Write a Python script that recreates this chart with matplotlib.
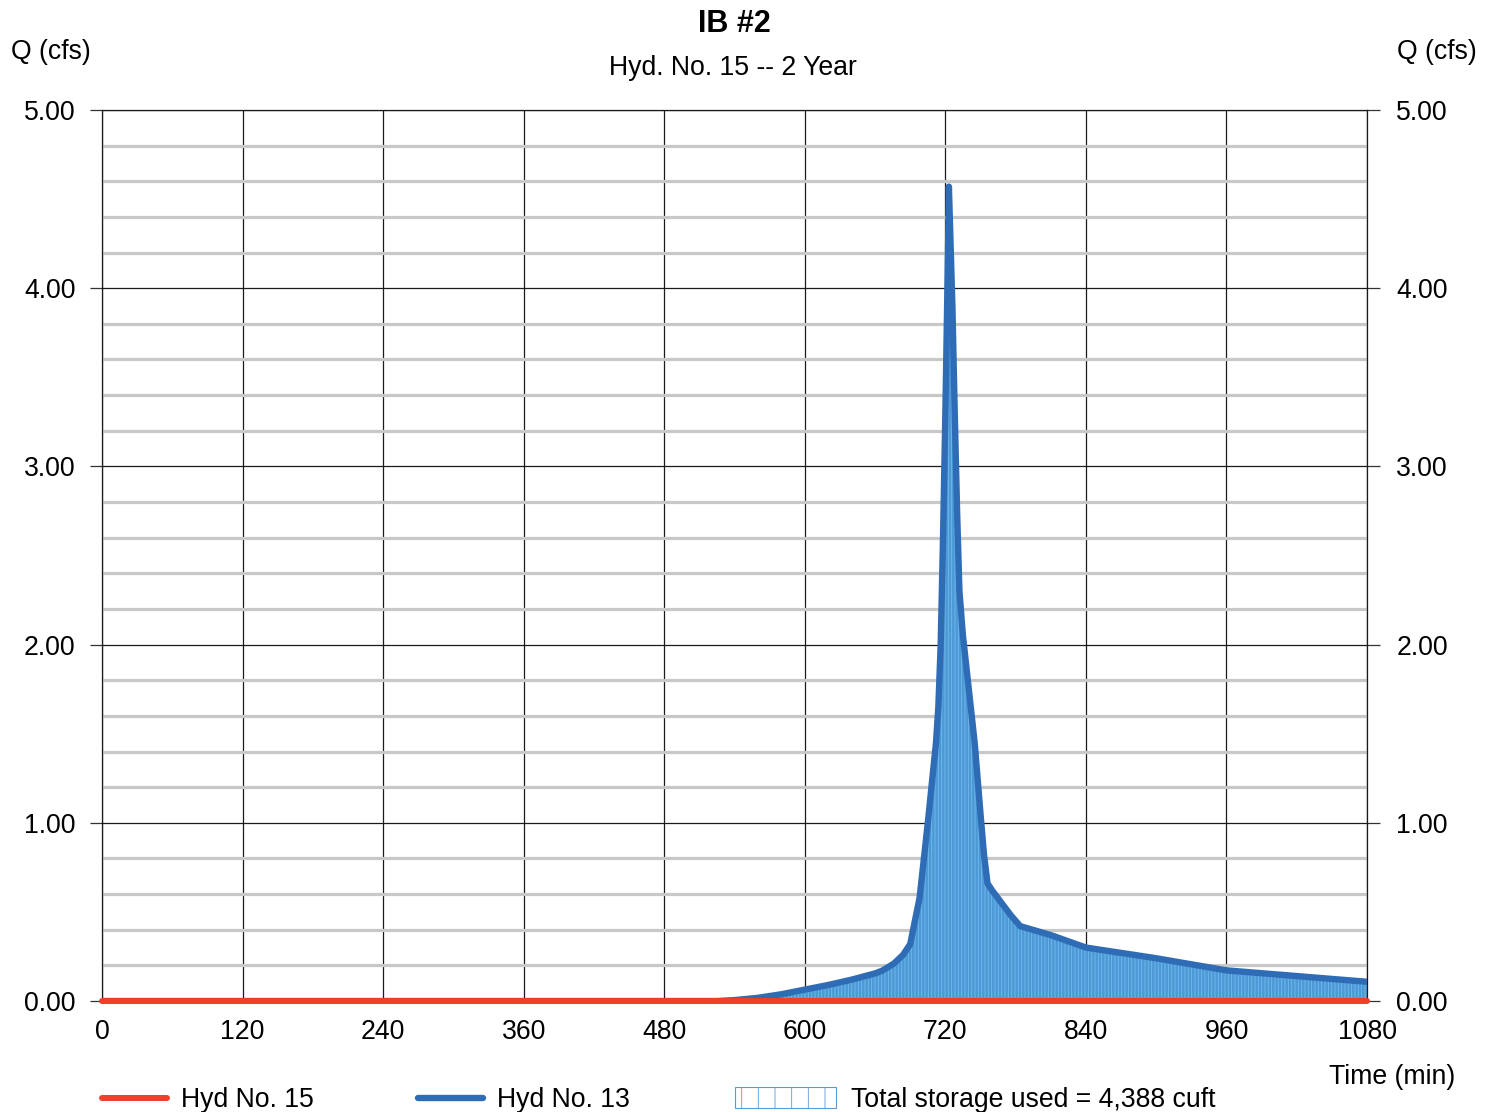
import matplotlib
matplotlib.use("Agg")
import matplotlib.pyplot as plt
import matplotlib.transforms as mtransforms
from matplotlib.lines import Line2D
from matplotlib.patches import Rectangle
from matplotlib.ticker import MultipleLocator, FormatStrFormatter

plt.rcParams['font.family'] = ['Liberation Sans', 'DejaVu Sans']
plt.rcParams['hatch.linewidth'] = 0.6

# Hydrograph ordinates (time in min, flow in cfs)
hyd13_time = [0, 120, 240, 360, 480, 525, 540, 560, 580, 600, 620, 640, 660,
              666, 676, 684, 690, 698, 705, 712, 714, 716, 718, 720, 722, 723,
              726, 728, 730, 732, 735, 740, 745, 750, 753, 756, 760, 768,
              776, 784, 810, 840, 900, 960, 1020, 1080]
hyd13_flow = [0.0, 0.0, 0.0, 0.0, 0.0, 0.0, 0.005, 0.018, 0.038, 0.064, 0.09,
              0.12, 0.155, 0.17, 0.21, 0.26, 0.32, 0.58, 1.0, 1.45, 1.65,
              2.0, 2.6, 3.3, 4.1, 4.57, 3.9, 3.3, 2.75, 2.3, 2.05, 1.75, 1.45,
              1.05, 0.82, 0.66, 0.62, 0.55, 0.48, 0.42, 0.37, 0.30, 0.24,
              0.172, 0.14, 0.108]
hyd15_time = [0, 1080]
hyd15_flow = [0.0, 0.0]

x_ticks = [0, 120, 240, 360, 480, 600, 720, 840, 960, 1080]
title = "IB #2"
subtitle = "Hyd. No. 15 -- 2 Year"
storage_label = "Total storage used = 4,388 cuft"

FS = 19.2
fig = plt.figure(figsize=(14.96, 11.12), dpi=100)
ax = fig.add_axes([0.0682, 0.0998, 0.8456, 0.8013])

ax.set_xlim(0, 1080)
ax.set_ylim(0, 5)

# grid: light minor lines every 0.2 cfs, dark major lines
ax.yaxis.set_minor_locator(MultipleLocator(0.2))
ax.yaxis.set_major_locator(MultipleLocator(1.0))
ax.set_xticks(x_ticks)
ax.grid(which='minor', axis='y', color='#c8c8c8', lw=2.3, zorder=0)
ax.grid(which='major', axis='y', color='#1a1a1a', lw=0.9, zorder=0.5)
ax.grid(which='major', axis='x', color='#1a1a1a', lw=0.9, zorder=0.5)
ax.set_axisbelow(True)

# storage area under the inflow hydrograph, then the two hydrographs
ax.fill_between(hyd13_time, hyd13_flow, 0, facecolor='#4a9ad7',
                edgecolor='#79b8e8', hatch='|||||', lw=0, zorder=2)
ax.plot(hyd13_time, hyd13_flow, color='#2f6cb6', lw=4.6,
        solid_capstyle='round', solid_joinstyle='round', zorder=3)
ax.plot(hyd15_time, hyd15_flow, color='#ef3e29', lw=4.3,
        solid_capstyle='round', clip_on=False, zorder=4)

ax.yaxis.set_major_formatter(FormatStrFormatter('%.2f'))
ax.tick_params(axis='y', which='major', length=9, width=0.9, color='#333333',
               labelsize=FS, pad=10, left=True, right=True,
               labelleft=True, labelright=True)
ax.tick_params(axis='y', which='minor', length=0)
ax.tick_params(axis='x', length=0, labelsize=FS, pad=13)
for s in ['left', 'right', 'top']:
    ax.spines[s].set_color('#1a1a1a')
    ax.spines[s].set_linewidth(0.9)
ax.spines['bottom'].set_visible(False)

# push right-hand labels a little further out
offset = mtransforms.ScaledTranslation(3 / 100, 0, fig.dpi_scale_trans)
for t in ax.yaxis.get_major_ticks():
    t.label2.set_transform(t.label2.get_transform() + offset)

fig.text(0.491, 0.978, title, ha='center', va='center', fontsize=22,
         fontweight='bold')
fig.text(0.490, 0.9388, subtitle, ha='center', va='center', fontsize=FS)
fig.text(0.034, 0.953, "Q (cfs)", ha='center', va='center', fontsize=FS)
fig.text(0.9606, 0.953, "Q (cfs)", ha='center', va='center', fontsize=FS)
fig.text(0.9305, 0.0315, "Time (min)", ha='center', va='center', fontsize=FS)

# legend row
ly = 0.0126
fig.add_artist(Line2D([0.0682, 0.1116], [ly, ly], color='#ef3e29', lw=4.3,
                      solid_capstyle='round', transform=fig.transFigure))
fig.text(0.121, ly - 0.0015, "Hyd No. 15", ha='left', va='center', fontsize=FS)
fig.add_artist(Line2D([0.2794, 0.3229], [ly, ly], color='#2f6cb6', lw=4.6,
                      solid_capstyle='round', transform=fig.transFigure))
fig.text(0.3322, ly - 0.0015, "Hyd No. 13", ha='left', va='center', fontsize=FS)
fig.add_artist(Rectangle((0.4913, 0.0036), 0.0675, 0.0189,
                         facecolor='white', edgecolor='#5b9ad6', hatch='|',
                         lw=0.8, transform=fig.transFigure))
fig.text(0.5689, ly - 0.0015, storage_label, ha='left', va='center',
         fontsize=FS)

fig.savefig("out.png", dpi=100)
